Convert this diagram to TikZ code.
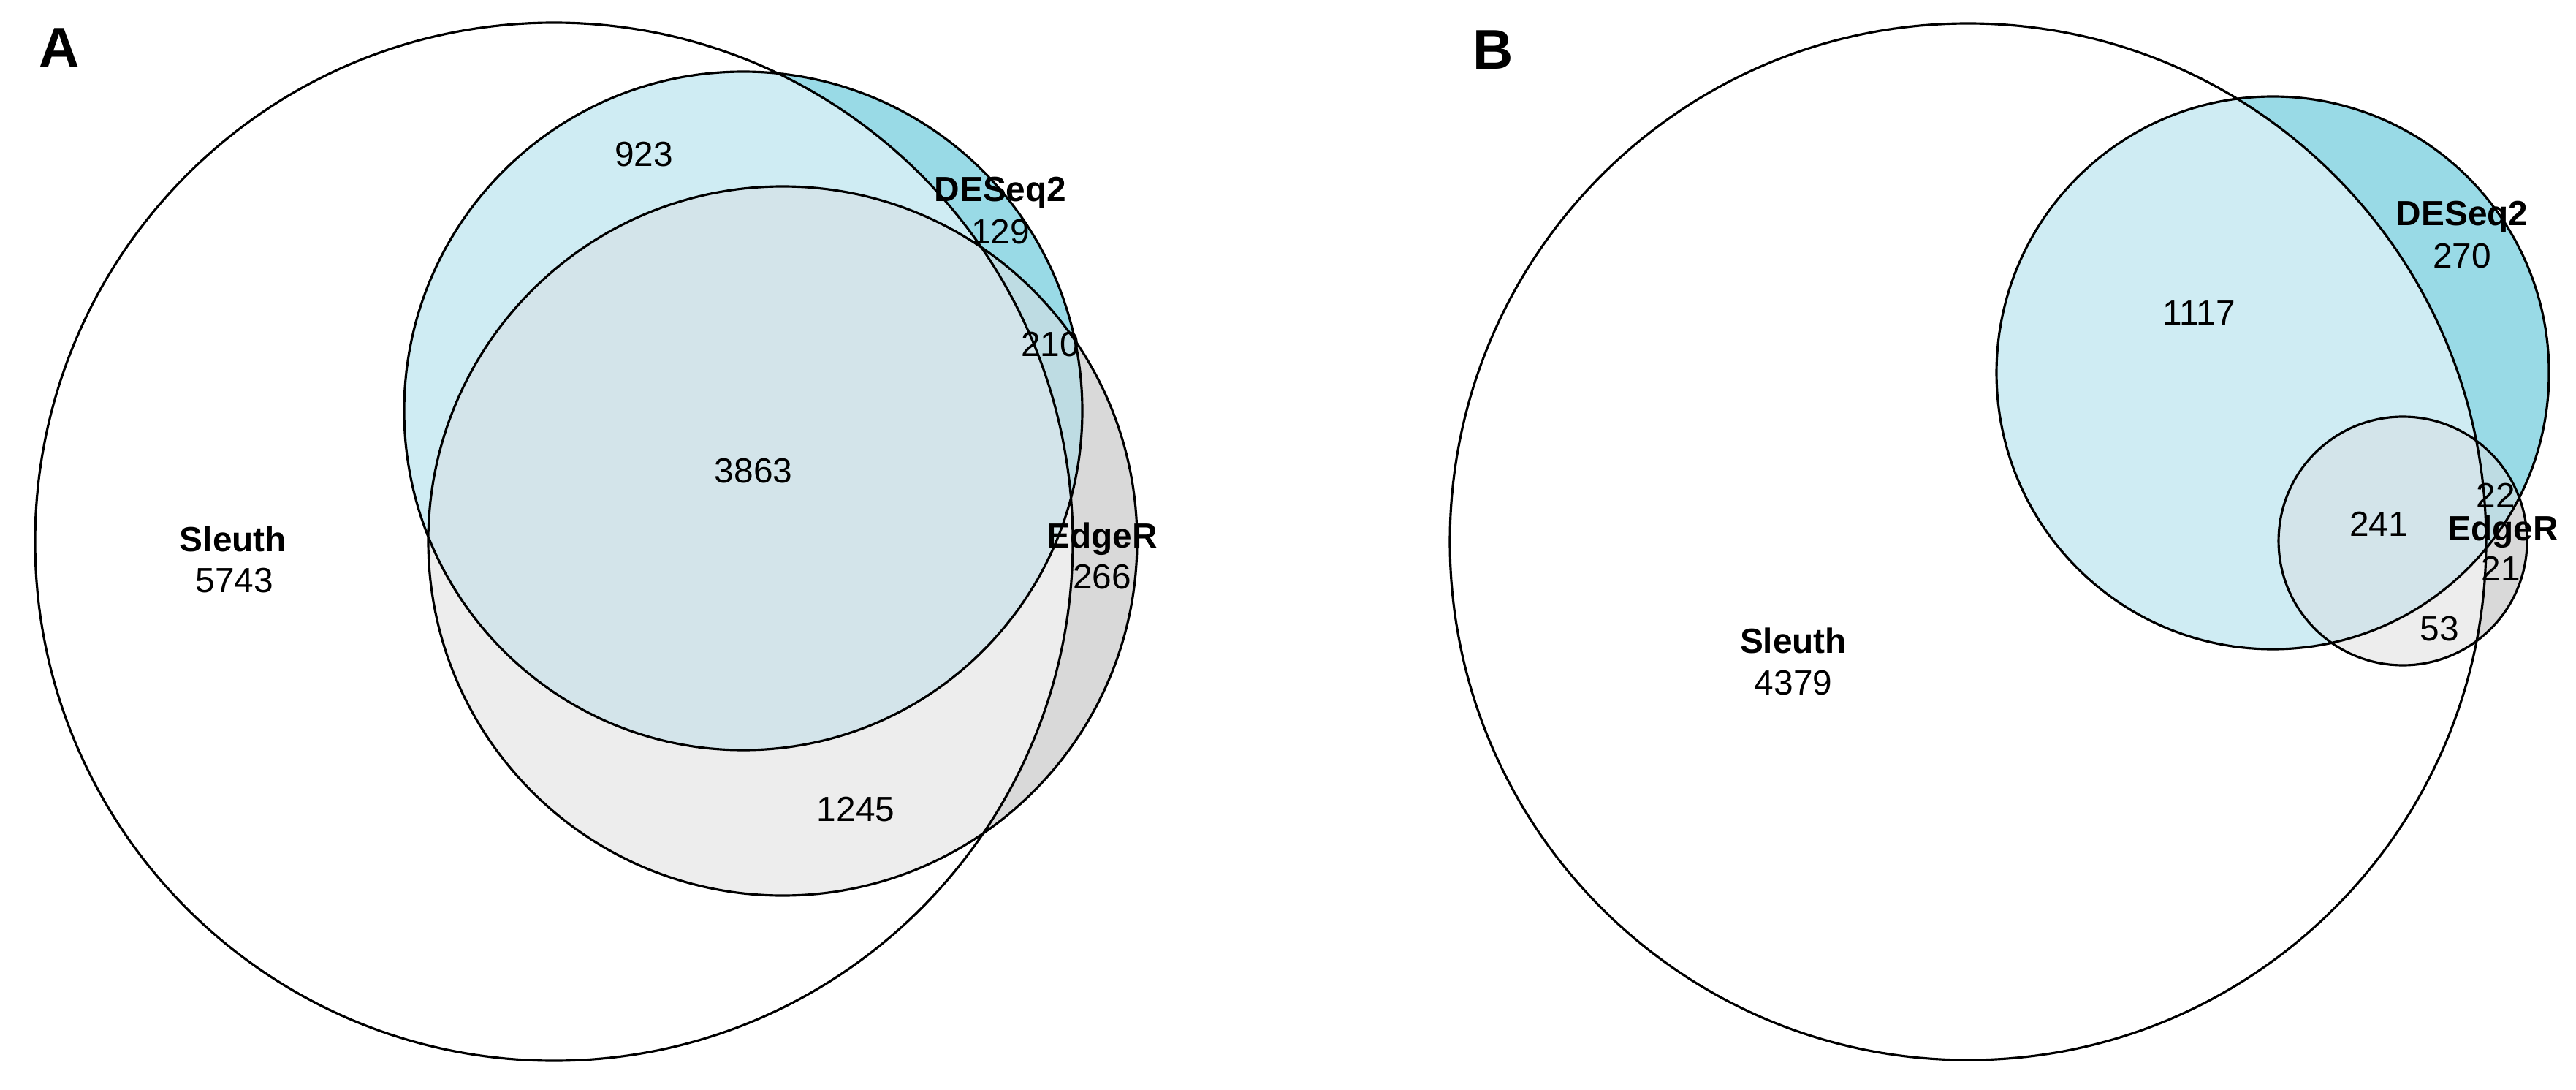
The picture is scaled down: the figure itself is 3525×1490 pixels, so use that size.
\documentclass[tikz,border=0pt]{standalone}
\usepackage{fontspec}
\setmainfont{Liberation Sans}
\usetikzlibrary{positioning}
\definecolor{deqOut}{HTML}{99DAE6}
\definecolor{deqIn}{HTML}{CFECF3}
\definecolor{edgOut}{HTML}{D9D9D9}
\definecolor{edgIn}{HTML}{EDEDED}
\definecolor{bothOut}{HTML}{BEDCE3}
\definecolor{allIn}{HTML}{D3E4EA}
\tikzset{rim/.style={draw=black, line width=0.9pt}}
\tikzset{count/.style={font=\fontsize{13.6}{15}\selectfont, inner sep=0pt}}
\tikzset{setname/.style={font=\fontsize{13.6}{15}\selectfont\bfseries, inner sep=0pt}}
\tikzset{panel/.style={font=\fontsize{21.8}{24}\selectfont\bfseries, inner sep=0pt}}
% #1,#2,#3 = sleuth, deseq2, edger centres; #4,#5,#6 = radii
\newcommand{\vennregions}[6]{%
  \fill[deqOut] (#2) circle[radius=#5];
  \fill[edgOut] (#3) circle[radius=#6];
  \begin{scope}
    \clip (#2) circle[radius=#5];
    \fill[bothOut] (#3) circle[radius=#6];
  \end{scope}
  \begin{scope}
    \clip (#1) circle[radius=#4];
    \fill[deqIn] (#2) circle[radius=#5];
    \fill[edgIn] (#3) circle[radius=#6];
    \clip (#2) circle[radius=#5];
    \fill[allIn] (#3) circle[radius=#6];
  \end{scope}
  \draw[rim] (#1) circle[radius=#4] (#2) circle[radius=#5] (#3) circle[radius=#6];
}
\begin{document}
\begin{tikzpicture}[x=0.1mm, y=0.1mm]
  \useasboundingbox (0,0) rectangle (3525,1490);
  % panel A
  \coordinate (s_a) at (758,749);
  \coordinate (d_a) at (1017,928);
  \coordinate (e_a) at (1071,750);
  \vennregions{s_a}{d_a}{e_a}{710}{464}{485}
  \node[panel] (lab_a) at (81,1425) {A};
  \node[setname] (sl_a) at (319,753) {Sleuth};
  \node[count] (n_s_a) at (321,696) {5743};
  \node[setname] (de_a) at (1369,1226) {DESeq2};
  \node[count] (n_d_a) at (1369,1173) {129};
  \node[setname] (ed_a) at (1508,753) {EdgeR};
  \node[count] (n_e_a) at (1508,701) {266};
  \node[count] (n_sd_a) at (881,1279) {923};
  \node[count] (n_de_a) at (1437,1019) {210};
  \node[count] (n_all_a) at (1031,846) {3863};
  \node[count] (n_se_a) at (1171,383) {1245};
  % panel B
  \coordinate (s_b) at (2693,749);
  \coordinate (d_b) at (3110,980);
  \coordinate (e_b) at (3288,750);
  \vennregions{s_b}{d_b}{e_b}{709}{378}{170}
  \node[panel] (lab_b) at (2043,1422) {B};
  \node[setname] (sl_b) at (2454,614) {Sleuth};
  \node[count] (n_s_b) at (2454,556) {4379};
  \node[setname] (de_b) at (3369,1193) {DESeq2};
  \node[count] (n_d_b) at (3369,1140) {270};
  \node[setname] (ed_b) at (3425,763) {EdgeR};
  \node[count] (n_e_b) at (3422,712) {21};
  \node[count] (n_sd_b) at (3009,1062) {1117};
  \node[count] (n_de_b) at (3415,812) {22};
  \node[count] (n_all_b) at (3255,773) {241};
  \node[count] (n_se_b) at (3338,630) {53};
\end{tikzpicture}
\end{document}
